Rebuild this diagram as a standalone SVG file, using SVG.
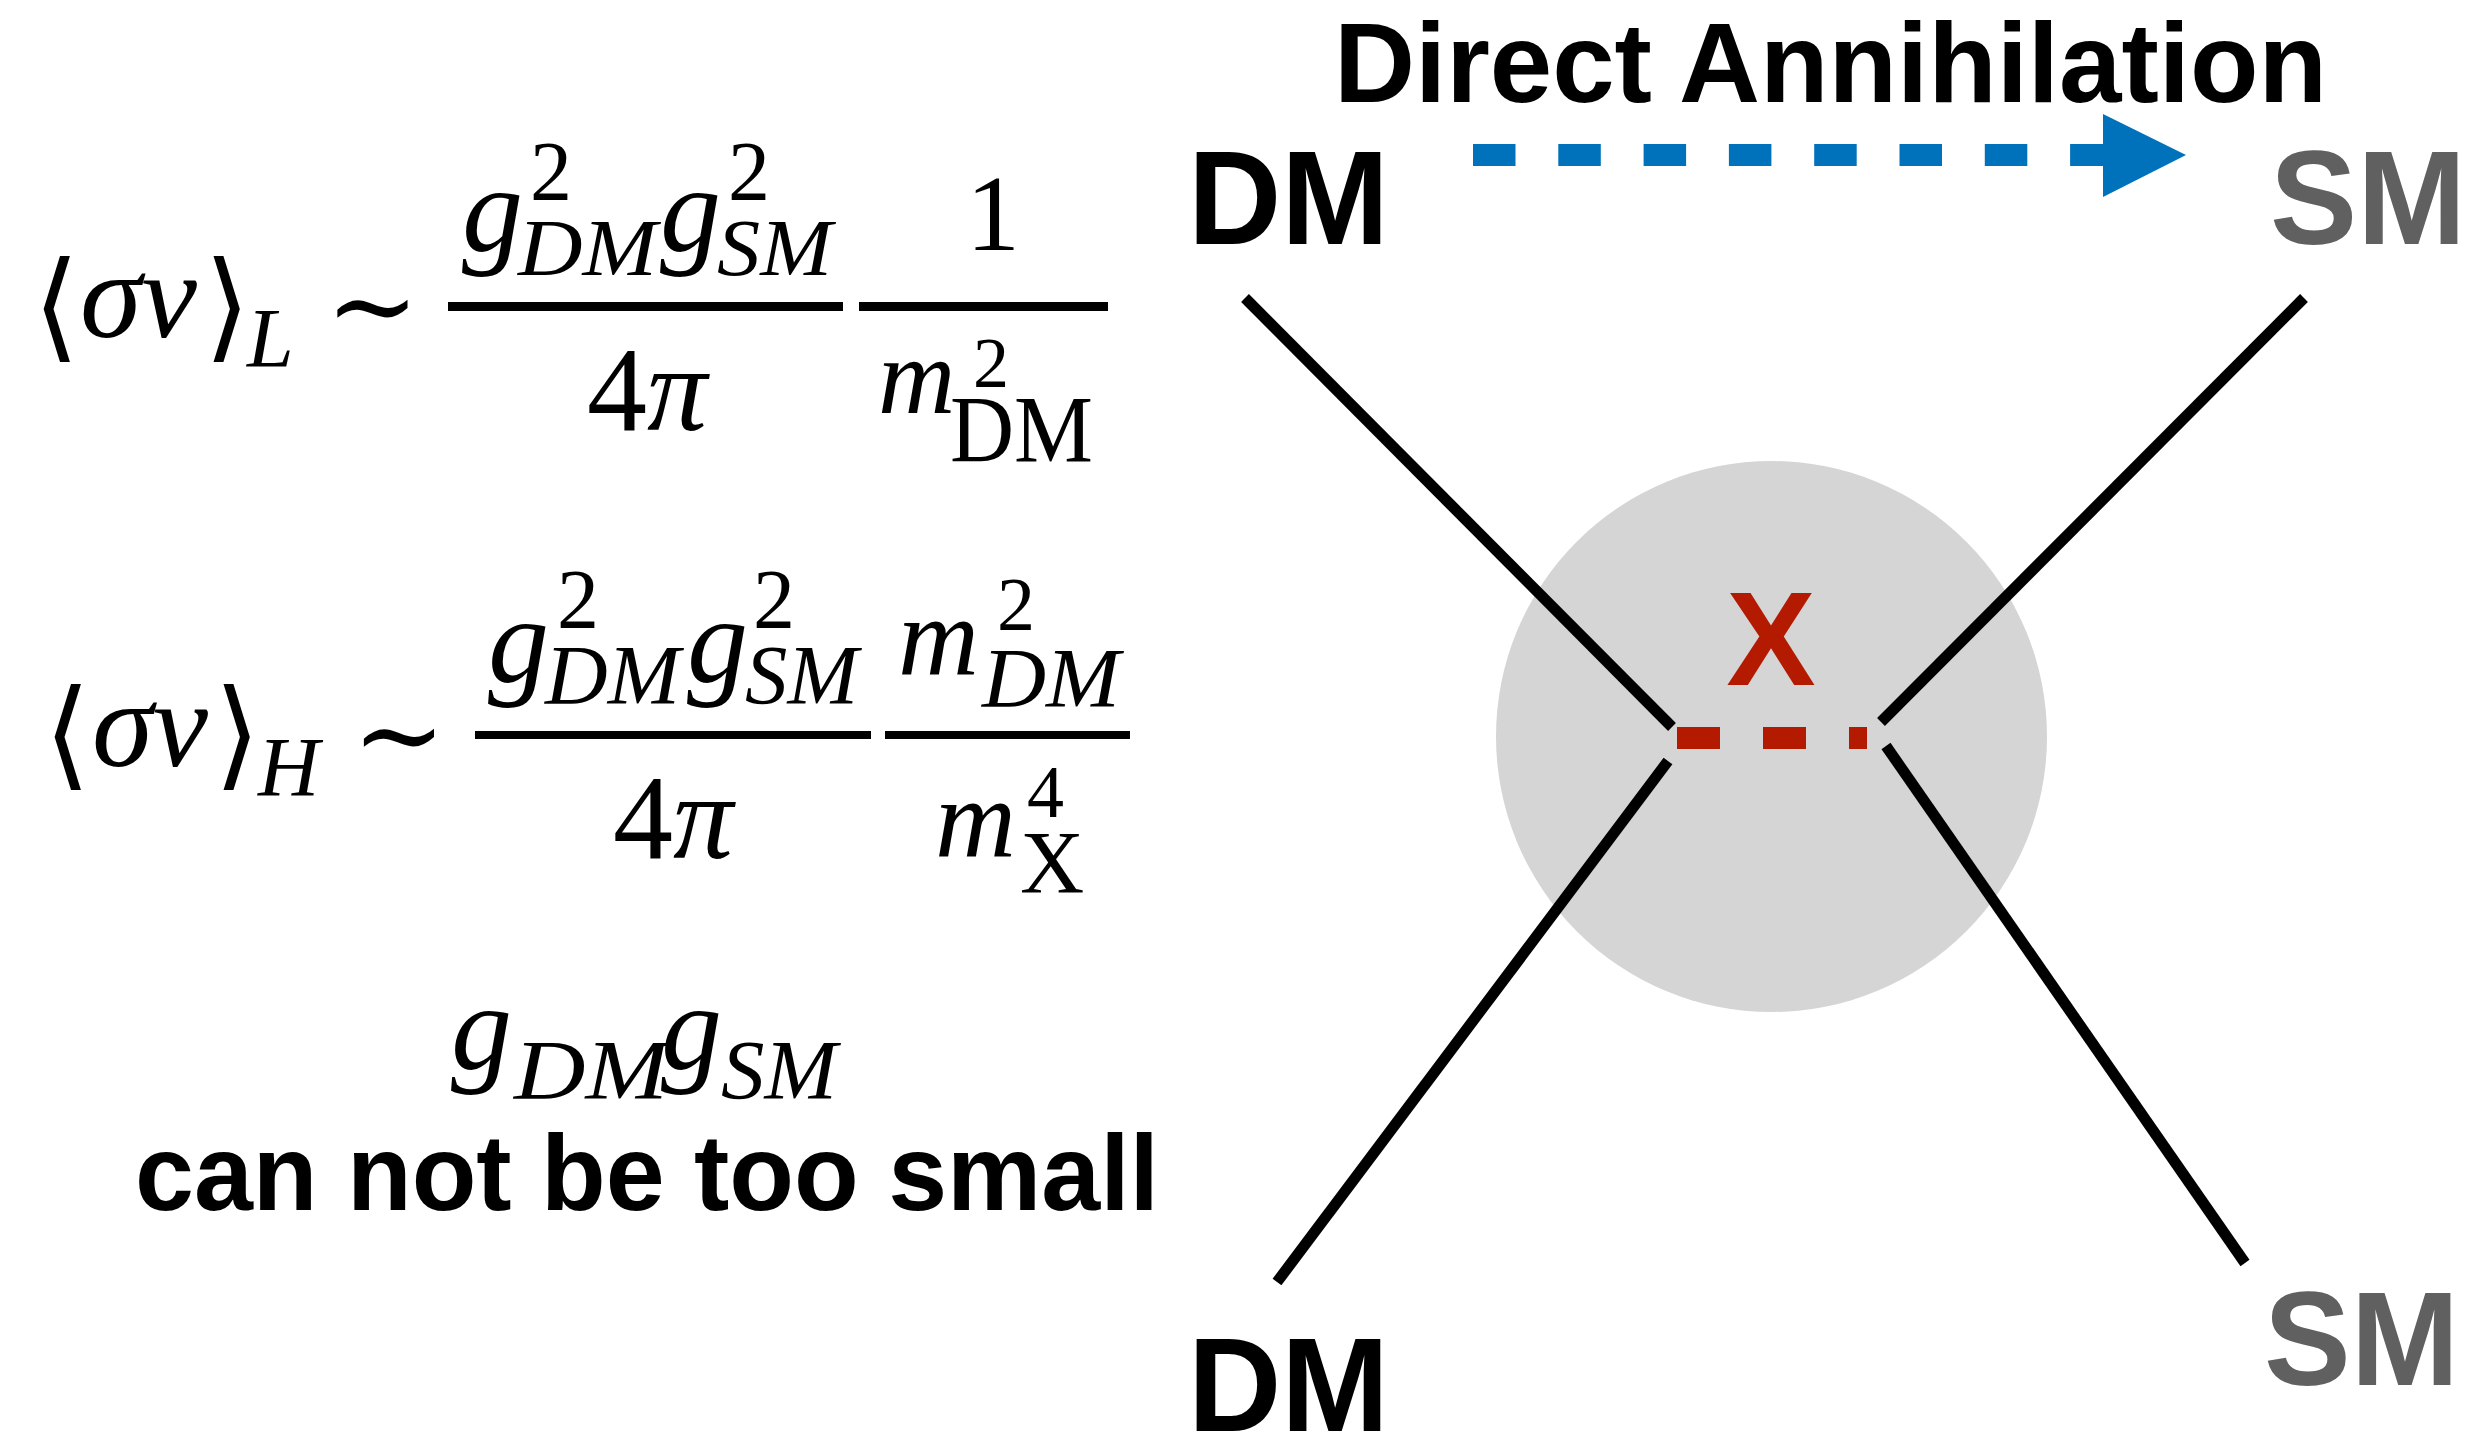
<svg xmlns="http://www.w3.org/2000/svg" width="2475" height="1435" viewBox="0 0 2475 1435">
<style>
.m{font-family:"Liberation Serif","DejaVu Serif",serif;fill:#000}
.i{font-style:italic}
.br{font-family:"DejaVu Serif","Liberation Serif",serif;fill:#000}
.b{font-family:"Liberation Sans",Arial,sans-serif;font-weight:bold}
.lbl{font-size:133px}
.leg{stroke:#000;stroke-width:11;fill:none;stroke-linecap:butt}
.bar{fill:#000}
</style>
<rect width="2475" height="1435" fill="#fff"/>
<g id="equation-L">
<text class="br" x="33" y="346" font-size="119">⟨</text>
<text class="m i" x="80" y="337" font-size="122" textLength="117" lengthAdjust="spacingAndGlyphs">σv</text>
<text class="br" x="204" y="346" font-size="119">⟩</text>
<text class="m i" x="247" y="367" font-size="84">L</text>
<text class="br" x="372.5" y="344" font-size="112" text-anchor="middle">∼</text>
<text class="m i" x="462" y="251" font-size="122">g</text>
<text class="m" x="530" y="200" font-size="84">2</text>
<text class="m i" x="518" y="275" font-size="80" textLength="139" lengthAdjust="spacingAndGlyphs">DM</text>
<text class="m i" x="660" y="251" font-size="122">g</text>
<text class="m" x="728" y="200" font-size="84">2</text>
<text class="m i" x="717" y="275" font-size="80" textLength="115" lengthAdjust="spacingAndGlyphs">SM</text>
<rect class="bar" x="448" y="302" width="395" height="9"/>
<text class="m" x="587" y="430" font-size="120">4<tspan class="i">π</tspan></text>
<rect class="bar" x="859" y="302" width="249" height="9"/>
<text class="m" x="966" y="250" font-size="108">1</text>
<text class="m i" x="878" y="413" font-size="107">m</text>
<text class="m" x="973" y="387" font-size="72">2</text>
<text class="m" x="950" y="462" font-size="96" textLength="143" lengthAdjust="spacingAndGlyphs">DM</text>
</g>
<g id="equation-H">
<text class="br" x="44" y="774" font-size="119">⟨</text>
<text class="m i" x="92" y="766" font-size="122" textLength="116" lengthAdjust="spacingAndGlyphs">σv</text>
<text class="br" x="214" y="774" font-size="119">⟩</text>
<text class="m i" x="258" y="796" font-size="85">H</text>
<text class="br" x="399" y="773" font-size="112" text-anchor="middle">∼</text>
<text class="m i" x="488" y="682" font-size="122">g</text>
<text class="m" x="557" y="628" font-size="84">2</text>
<text class="m i" x="545" y="704" font-size="84" textLength="135" lengthAdjust="spacingAndGlyphs">DM</text>
<text class="m i" x="687" y="682" font-size="122">g</text>
<text class="m" x="753" y="628" font-size="84">2</text>
<text class="m i" x="745" y="704" font-size="84" textLength="113" lengthAdjust="spacingAndGlyphs">SM</text>
<rect class="bar" x="475" y="731" width="396" height="8"/>
<text class="m" x="613" y="858" font-size="120">4<tspan class="i">π</tspan></text>
<rect class="bar" x="885" y="731" width="245" height="8"/>
<text class="m i" x="898" y="675" font-size="112">m</text>
<text class="m" x="997" y="630" font-size="76">2</text>
<text class="m i" x="982" y="707" font-size="84" textLength="138" lengthAdjust="spacingAndGlyphs">DM</text>
<text class="m i" x="935" y="857" font-size="112">m</text>
<text class="m" x="1027" y="817" font-size="74">4</text>
<text class="m" x="1020" y="892" font-size="89">X</text>
</g>
<g id="coupling-note">
<text class="m i" x="451" y="1069" font-size="122">g</text>
<text class="m i" x="514" y="1099" font-size="84" textLength="154" lengthAdjust="spacingAndGlyphs">DM</text>
<text class="m i" x="661" y="1069" font-size="122">g</text>
<text class="m i" x="721" y="1099" font-size="84" textLength="116" lengthAdjust="spacingAndGlyphs">SM</text>
<text class="b" x="135" y="1210" font-size="107" textLength="1024" lengthAdjust="spacingAndGlyphs">can not be too small</text>
</g>
<g id="title">
<text class="b" x="1334" y="102" font-size="114" textLength="993" lengthAdjust="spacingAndGlyphs">Direct Annihilation</text>
</g>
<g id="vertex">
<circle cx="1771.5" cy="736.5" r="275.5" fill="#d5d5d5"/>
<text class="b" x="1771" y="685" font-size="134" fill="#b31a00" text-anchor="middle">X</text>
</g>
<g id="node-dm-top"><text class="b lbl" x="1188" y="244" fill="#000" textLength="201" lengthAdjust="spacingAndGlyphs">DM</text></g>
<g id="node-sm-top"><text class="b lbl" x="2270" y="244" fill="#606060" textLength="196" lengthAdjust="spacingAndGlyphs">SM</text></g>
<g id="node-dm-bottom"><text class="b lbl" x="1188" y="1431" fill="#000" textLength="201" lengthAdjust="spacingAndGlyphs">DM</text></g>
<g id="node-sm-bottom"><text class="b lbl" x="2264" y="1385" fill="#606060" textLength="195" lengthAdjust="spacingAndGlyphs">SM</text></g>
<g id="connectors">
<line class="leg" x1="1245" y1="298" x2="1672" y2="727"/>
<line class="leg" x1="2304" y1="298" x2="1881" y2="722"/>
<line class="leg" x1="1668" y1="761" x2="1277" y2="1282"/>
<line class="leg" x1="1886" y1="746" x2="2245" y2="1263"/>
<line x1="1677" y1="738" x2="1867" y2="738" stroke="#b31a00" stroke-width="22" stroke-dasharray="43 43"/>
<line x1="1473" y1="155" x2="2104" y2="155" stroke="#0072bb" stroke-width="22" stroke-dasharray="42.5 42.8"/>
<polygon points="2103,114 2186,155 2103,197" fill="#0072bb"/>
</g>
</svg>
